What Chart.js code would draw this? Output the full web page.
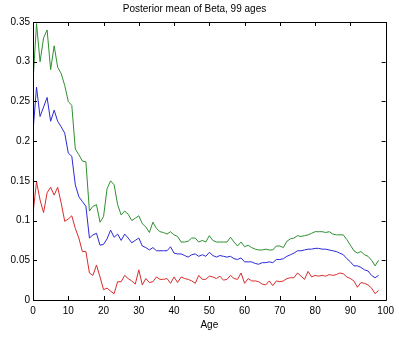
<!DOCTYPE html>
<html>
<head>
<meta charset="utf-8">
<script src="https://cdn.jsdelivr.net/npm/chart.js@4/dist/chart.umd.min.js"></script>
<style>
	html, body { margin: 0; padding: 0; background: #fff; }
	#wrap { width: 399px; height: 339px; }
</style>
</head>
<body>
<div id="wrap"><canvas id="beta"></canvas></div>
<script>
let ages = [0, 1, 2, 3, 4, 5, 6, 7, 8, 9, 10, 11, 12, 13, 14, 15, 16, 17, 18, 19,
	20, 21, 22, 23, 24, 25, 26, 27, 28, 29, 30, 31, 32, 33, 34, 35, 36, 37, 38, 39,
	40, 41, 42, 43, 44, 45, 46, 47, 48, 49, 50, 51, 52, 53, 54, 55, 56, 57, 58, 59,
	60, 61, 62, 63, 64, 65, 66, 67, 68, 69, 70, 71, 72, 73, 74, 75, 76, 77, 78, 79,
	80, 81, 82, 83, 84, 85, 86, 87, 88, 89, 90, 91, 92, 93, 94, 95, 96, 97, 98];

let betaUpper = [0.275, 0.348, 0.300, 0.330, 0.340, 0.290, 0.320, 0.293, 0.285, 0.270,
	0.250, 0.245, 0.190, 0.183, 0.175, 0.174, 0.112, 0.118, 0.120, 0.098,
	0.105, 0.140, 0.150, 0.145, 0.120, 0.107, 0.112, 0.108, 0.100, 0.103,
	0.106, 0.096, 0.092, 0.085, 0.098, 0.090, 0.086, 0.085, 0.083, 0.086,
	0.082, 0.080, 0.073, 0.073, 0.074, 0.078, 0.078, 0.073, 0.075, 0.073,
	0.081, 0.075, 0.073, 0.073, 0.073, 0.073, 0.079, 0.073, 0.068, 0.073,
	0.067, 0.069, 0.066, 0.064, 0.063, 0.063, 0.064, 0.063, 0.063, 0.068,
	0.068, 0.066, 0.074, 0.077, 0.078, 0.081, 0.080, 0.081, 0.082, 0.084,
	0.086, 0.086, 0.086, 0.085, 0.086, 0.083, 0.082, 0.082, 0.082, 0.076,
	0.069, 0.062, 0.059, 0.061, 0.057, 0.055, 0.050, 0.043, 0.050];

let betaMean = [0.212, 0.268, 0.231, 0.243, 0.255, 0.225, 0.239, 0.225, 0.218, 0.210,
	0.185, 0.181, 0.145, 0.130, 0.124, 0.118, 0.078, 0.082, 0.084, 0.069,
	0.070, 0.077, 0.088, 0.079, 0.083, 0.075, 0.083, 0.078, 0.072, 0.075,
	0.078, 0.068, 0.066, 0.063, 0.066, 0.062, 0.062, 0.062, 0.062, 0.067,
	0.059, 0.058, 0.058, 0.056, 0.054, 0.057, 0.058, 0.055, 0.057, 0.055,
	0.060, 0.056, 0.054, 0.056, 0.055, 0.054, 0.055, 0.052, 0.051, 0.053,
	0.048, 0.048, 0.048, 0.046, 0.045, 0.047, 0.047, 0.048, 0.047, 0.051,
	0.051, 0.052, 0.055, 0.057, 0.059, 0.062, 0.062, 0.063, 0.064, 0.064,
	0.065, 0.065, 0.064, 0.064, 0.063, 0.062, 0.061, 0.059, 0.057, 0.052,
	0.048, 0.043, 0.043, 0.041, 0.038, 0.0365, 0.031, 0.028, 0.031];

let betaLower = [0.109, 0.149, 0.126, 0.110, 0.135, 0.142, 0.132, 0.142, 0.122, 0.099,
	0.102, 0.106, 0.090, 0.078, 0.061, 0.061, 0.034, 0.031, 0.044, 0.029,
	0.013, 0.015, 0.011, 0.008, 0.023, 0.023, 0.031, 0.027, 0.024, 0.020,
	0.038, 0.019, 0.027, 0.022, 0.023, 0.029, 0.026, 0.026, 0.027, 0.021,
	0.029, 0.022, 0.029, 0.027, 0.026, 0.024, 0.021, 0.031, 0.026, 0.026,
	0.030, 0.029, 0.027, 0.030, 0.025, 0.026, 0.031, 0.027, 0.026, 0.034,
	0.021, 0.027, 0.024, 0.024, 0.023, 0.020, 0.019, 0.024, 0.018, 0.024,
	0.023, 0.024, 0.027, 0.028, 0.028, 0.034, 0.030, 0.026, 0.036, 0.029,
	0.031, 0.030, 0.031, 0.030, 0.032, 0.031, 0.032, 0.034, 0.033, 0.029,
	0.027, 0.024, 0.016, 0.022, 0.021, 0.019, 0.015, 0.008, 0.012];

let xTicks = [0, 10, 20, 30, 40, 50, 60, 70, 80, 90, 100];
let yTicks = [0, 0.05, 0.1, 0.15, 0.2, 0.25, 0.3, 0.35];

const FONT = 'Arial, "Liberation Sans", Helvetica, sans-serif';

function toPoints(values) {
	return values.map((v, i) => ({ x: ages[i], y: v }));
}

function makeSeries(label, values, color) {
	return {
		label: label,
		data: toPoints(values),
		borderColor: color,
		backgroundColor: color,
		borderWidth: 1,
		pointRadius: 0,
		tension: 0,
		fill: false
	};
}

// matlab style box with ticks pointing inward on all four sides
const matlabBox = {
	id: 'matlabBox',
	afterDraw(chart) {
		let ctx = chart.ctx;
		let a = chart.chartArea;
		let xs = chart.scales.x;
		let ys = chart.scales.y;
		let len = 4;
		ctx.save();
		ctx.strokeStyle = '#000';
		ctx.lineWidth = 1;
		ctx.beginPath();
		ctx.rect(Math.round(a.left) + 0.5, Math.round(a.top) + 0.5,
			Math.round(a.right - a.left), Math.round(a.bottom - a.top));
		xTicks.forEach(t => {
			let px = Math.round(xs.getPixelForValue(t)) + 0.5;
			ctx.moveTo(px, a.bottom);
			ctx.lineTo(px, a.bottom - len);
			ctx.moveTo(px, a.top);
			ctx.lineTo(px, a.top + len);
		});
		yTicks.forEach(t => {
			let py = Math.round(ys.getPixelForValue(t)) + 0.5;
			ctx.moveTo(a.left, py);
			ctx.lineTo(a.left + len, py);
			ctx.moveTo(a.right, py);
			ctx.lineTo(a.right - len, py);
		});
		ctx.stroke();
		ctx.restore();
	}
};

document.addEventListener('DOMContentLoaded', () => {
	let context = document.getElementById('beta').getContext('2d');

	let config = {
		type: 'line',
		data: {
			datasets: [
				makeSeries('Upper', betaUpper, '#2f8f2f'),
				makeSeries('Mean', betaMean, '#2a2ad6'),
				makeSeries('Lower', betaLower, '#d82c2c')
			]
		},
		plugins: [matlabBox],
		options: {
			responsive: true,
			maintainAspectRatio: false,
			animation: false,
			layout: {
				padding: { left: 0, right: 10, top: 0, bottom: 0 }
			},
			plugins: {
				legend: { display: false },
				tooltip: { enabled: false },
				title: {
					display: true,
					text: 'Posterior mean of Beta, 99 ages',
					color: '#000',
					font: { family: FONT, size: 10, weight: 'normal', lineHeight: 1.2 },
					padding: { top: 3, bottom: 7 }
				}
			},
			scales: {
				x: {
					type: 'linear',
					min: 0,
					max: 100,
					afterBuildTicks: (scale) => {
						scale.ticks = xTicks.map(v => ({ value: v }));
					},
					grid: { display: false, drawTicks: false },
					border: { display: false },
					ticks: {
						color: '#000',
						padding: 5,
						maxRotation: 0,
						font: { family: FONT, size: 10 }
					},
					title: {
						display: true,
						text: 'Age',
						color: '#000',
						font: { family: FONT, size: 10 },
						padding: { top: 3, bottom: 8 }
					},
					afterFit: (scale) => { scale.height = 39; }
				},
				y: {
					type: 'linear',
					min: 0,
					max: 0.35,
					afterBuildTicks: (scale) => {
						scale.ticks = yTicks.map(v => ({ value: v }));
					},
					grid: { display: false, drawTicks: false },
					border: { display: false },
					ticks: {
						color: '#000',
						padding: 3,
						font: { family: FONT, size: 10 },
						callback: (v) => String(+v.toFixed(2))
					},
					afterFit: (scale) => { scale.width = 33; }
				}
			}
		}
	};

	new Chart(context, config);
});
</script>
</body>
</html>
